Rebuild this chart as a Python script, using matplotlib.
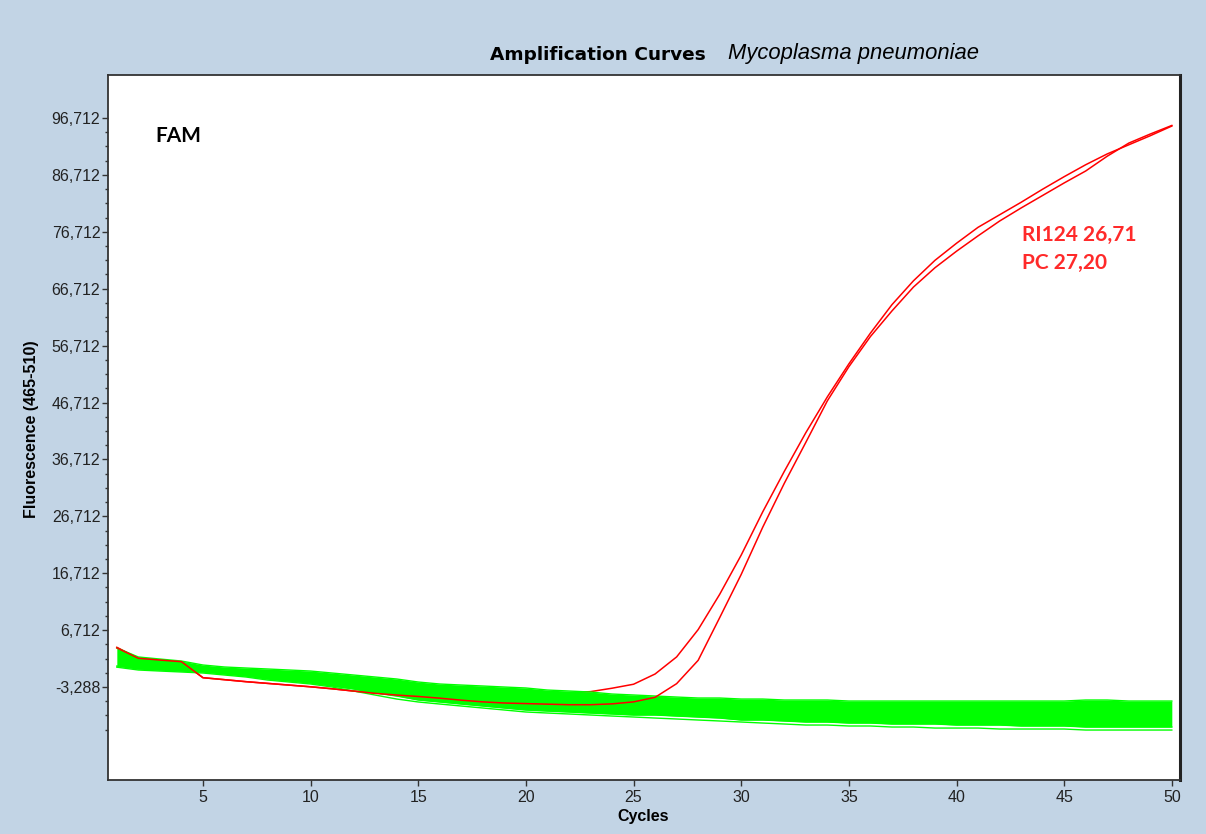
import matplotlib
matplotlib.use("Agg")
import matplotlib.pyplot as plt
from matplotlib.ticker import FixedLocator, FuncFormatter
import numpy as np

# ---------------- data ----------------
cycles = list(range(1, 51))

# RI124 (Ct 26,71) - earlier riser
ri124 = [3690, 1760, 1450, 1160, -1650, -2000, -2350, -2650, -2950, -3250,
         -3600, -4000, -4350, -4300, -4350, -4350, -4300, -4300, -4300, -4350,
         -4350, -4300, -4100, -3500, -2800, -1000, 2000, 6800, 13000, 19900,
         27500, 34600, 41400, 47700, 53500, 58900, 63900, 68100, 71700, 74700,
         77500, 79700, 81900, 84200, 86400, 88500, 90400, 92000, 93600, 95300]

# PC (Ct 27,20)
pc = [3600, 1760, 1450, 1160, -1650, -2000, -2350, -2650, -2950, -3250,
      -3600, -4000, -4400, -4700, -4950, -5250, -5600, -5900, -6100, -6200,
      -6300, -6400, -6400, -6250, -5900, -5100, -2700, 1400, 8900, 16500,
      24800, 32500, 39700, 47000, 53000, 58300, 62800, 67000, 70400, 73300,
      76000, 78600, 80900, 83100, 85300, 87400, 90000, 92300, 93900, 95400]

# negative samples: envelope of the green band
neg_upper = [3570, 1990, 1630, 1280, 580, 230, 50, -120, -300, -480,
             -830, -1180, -1530, -1880, -2410, -2760, -2940, -3110, -3290, -3460,
             -3820, -3990, -4170, -4520, -4690, -4870, -5050, -5220, -5220, -5400,
             -5400, -5570, -5570, -5570, -5750, -5750, -5750, -5750, -5750, -5750,
             -5750, -5750, -5750, -5750, -5750, -5570, -5570, -5750, -5750, -5750]

neg_lower = [400, -120, -300, -480, -650, -1000, -1360, -1880, -2230, -2590,
             -3110, -3640, -4340, -4870, -5570, -5920, -6280, -6630, -6980, -7330,
             -7510, -7680, -7860, -8030, -8210, -8210, -8390, -8560, -8740, -9090,
             -9090, -9260, -9440, -9440, -9620, -9620, -9790, -9790, -9790, -9970,
             -9970, -9970, -10140, -10140, -10140, -10320, -10320, -10320, -10320, -10320]

neg_lowest = [200, -300, -480, -650, -830, -1180, -1530, -2060, -2410, -2760,
              -3290, -3990, -4700, -5400, -5920, -6280, -6630, -6980, -7330, -7680,
              -7860, -8030, -8210, -8390, -8560, -8740, -8910, -9090, -9260, -9440,
              -9620, -9790, -9970, -9970, -10140, -10140, -10320, -10320, -10500, -10500,
              -10500, -10670, -10670, -10670, -10670, -10850, -10850, -10850, -10850, -10850]

x_ticks = [5, 10, 15, 20, 25, 30, 35, 40, 45, 50]
y_major = [-3288, 6712, 16712, 26712, 36712, 46712, 56712, 66712, 76712, 86712, 96712]
y_minor_step = 2500

title_main = "Amplification Curves"
title_species = "Mycoplasma pneumoniae"
channel = "FAM"
annotations = ["RI124 26,71", "PC 27,20"]
x_label = "Cycles"
y_label = "Fluorescence (465-510)"

# ---------------- figure ----------------
W, H = 1206, 834
bg = "#C2D4E5"
fig = plt.figure(figsize=(W / 100, H / 100), dpi=100, facecolor=bg)

left, right, top, bottom = 108, 1180, 75, 780
ax = fig.add_axes([left / W, 1 - bottom / H, (right - left) / W, (bottom - top) / H])
ax.set_facecolor("white")

ax.set_xlim(0.59, 50.38)
ax.set_ylim(-19630, 104270)

green = "#00FF00"
red = "#FF0000"

# RI124 drawn under the negative band, PC above it
ax.plot(cycles, ri124, color=red, lw=1.1, zorder=1)
ax.fill_between(cycles, neg_lower, neg_upper, color=green, lw=0, zorder=2)
ax.plot(cycles, neg_upper, color=green, lw=1.0, zorder=2)
ax.plot(cycles, neg_lower, color=green, lw=1.0, zorder=2)
ax.plot(cycles, neg_lowest, color=green, lw=1.0, zorder=2)
ax.plot(cycles, pc, color=red, lw=1.1, zorder=3)

# ticks
ax.xaxis.set_major_locator(FixedLocator(x_ticks))
ax.yaxis.set_major_locator(FixedLocator(y_major))
minors = [v for v in np.arange(y_major[0] - 3 * y_minor_step, y_major[-1], y_minor_step)
          if all(abs(v - m) > 1 for m in y_major)]
ax.yaxis.set_minor_locator(FixedLocator(minors))
ax.yaxis.set_major_formatter(FuncFormatter(lambda v, p: f"{int(round(v)):,}"))

for lab in ax.get_xticklabels() + ax.get_yticklabels():
    lab.set_fontfamily("Liberation Sans")
    lab.set_fontsize(11.5)
    lab.set_color("#222222")
ax.tick_params(axis="y", which="major", direction="out", length=4, width=1, pad=1.5,
               colors="#333333", labelcolor="#222222")
ax.tick_params(axis="y", which="minor", direction="out", length=2.5, width=1, colors="#333333")
ax.tick_params(axis="x", which="major", direction="out", length=4, width=1, pad=3,
               colors="#333333", labelcolor="#222222")

for s in ["left", "bottom", "top"]:
    ax.spines[s].set_color("#333333")
    ax.spines[s].set_linewidth(1.3)
ax.spines["right"].set_color("#222222")
ax.spines["right"].set_linewidth(2.2)

# texts
fig.text(490 / W, 1 - 59.5 / H, title_main, family="DejaVu Sans", weight="bold",
         size=13.3, ha="left", va="baseline", color="black")
fig.text(728 / W, 1 - 59.5 / H, title_species, family="Liberation Sans", style="italic",
         size=15.8, ha="left", va="baseline", color="black")

fig.text(155 / W, 1 - 141.7 / H, channel, family="Lato", weight="bold", size=15,
         ha="left", va="baseline", color="black")

fig.text(1022 / W, 1 - 240.7 / H, annotations[0], family="Lato", weight="bold", size=15,
         ha="left", va="baseline", color="#FF2A2A")
fig.text(1022 / W, 1 - 269 / H, annotations[1], family="Lato", weight="bold", size=15,
         ha="left", va="baseline", color="#FF2A2A")

fig.text(643 / W, 1 - 816 / H, x_label, family="Liberation Sans", weight="bold", size=11.5,
         ha="center", va="center", color="black")
fig.text(32 / W, 1 - 429 / H, y_label, family="Liberation Sans", weight="bold", size=11.5,
         ha="center", va="center", rotation=90, color="black")

fig.savefig("out.png", dpi=100, facecolor=bg)
